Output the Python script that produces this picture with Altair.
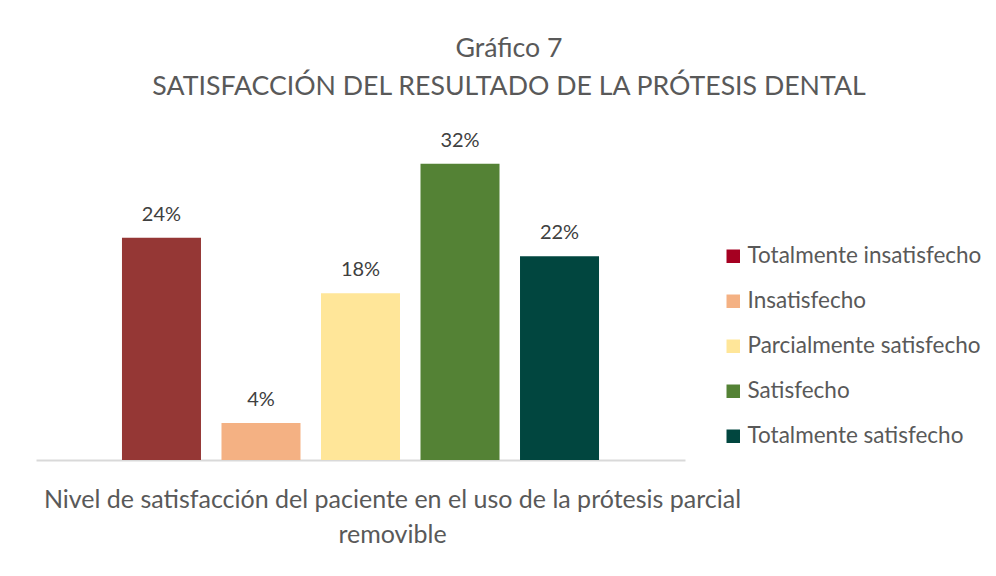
import altair as alt
import pandas as pd

categorias = ["Totalmente insatisfecho", "Insatisfecho", "Parcialmente satisfecho",
              "Satisfecho", "Totalmente satisfecho"]
valores = [24, 4, 18, 32, 22]
colores_barras = ["#953735", "#F4B183", "#FFE699", "#548235", "#01463F"]
colores_leyenda = ["#A50021", "#F4B183", "#FFE699", "#548235", "#01463F"]
titulo = ["Gráfico 7", "SATISFACCIÓN DEL RESULTADO DE LA PRÓTESIS DENTAL"]
titulo_eje = ["Nivel de satisfacción del paciente en el uso de la prótesis parcial",
              "removible"]

df = pd.DataFrame({"categoria": categorias, "valor": valores})

FONT = "Lato"

x = alt.X("categoria:N", sort=categorias,
          scale=alt.Scale(paddingInner=0.206, paddingOuter=0.864),
          axis=alt.Axis(labels=False, ticks=False, domainColor="#d9d9d9", domainWidth=2,
                        title=titulo_eje, titleFont=FONT, titleFontSize=25,
                        titleFontWeight="normal", titleColor="#595959",
                        titlePadding=27, titleLineHeight=35, titleX=356))
y = alt.Y("valor:Q", scale=alt.Scale(domain=[0, 35]), axis=None)

barras = alt.Chart(df).mark_bar().encode(
    x=x, y=y,
    color=alt.Color("categoria:N", sort=categorias,
                    scale=alt.Scale(domain=categorias, range=colores_barras), legend=None),
)

etiquetas = alt.Chart(df).transform_calculate(
    etiqueta="datum.valor + '%'"
).mark_text(font=FONT, fontSize=20, color="#404040", baseline="alphabetic", dy=-17).encode(
    x=x, y=y, text="etiqueta:N"
)

leyenda = alt.Chart(df).mark_square(opacity=0.001).encode(
    x=x, y=y,
    color=alt.Color("categoria:N", sort=categorias,
                    scale=alt.Scale(domain=categorias, range=colores_leyenda),
                    legend=alt.Legend(title=None, orient="none", legendX=686, legendY=109,
                                      symbolType="square", symbolSize=182, symbolOpacity=1,
                                      symbolStrokeWidth=0, labelFont=FONT, labelFontSize=22.5,
                                      labelColor="#595959", labelOffset=3, rowPadding=22,
                                      padding=0, labelLimit=400)),
)

chart = alt.layer(barras, etiquetas, leyenda).resolve_scale(
    color="independent"
).resolve_legend(color="independent").properties(
    width=649, height=324, background="white",
    padding={"left": 28, "top": 28, "right": 0, "bottom": 0},
    title=alt.TitleParams(titulo, anchor="middle", frame="bounds", font=FONT, fontSize=26.7,
                          fontWeight="normal", color="#595959", lineHeight=38, offset=30),
).configure_view(stroke=None)

chart.save("out.html", embed_options={"renderer": "svg", "actions": False})
